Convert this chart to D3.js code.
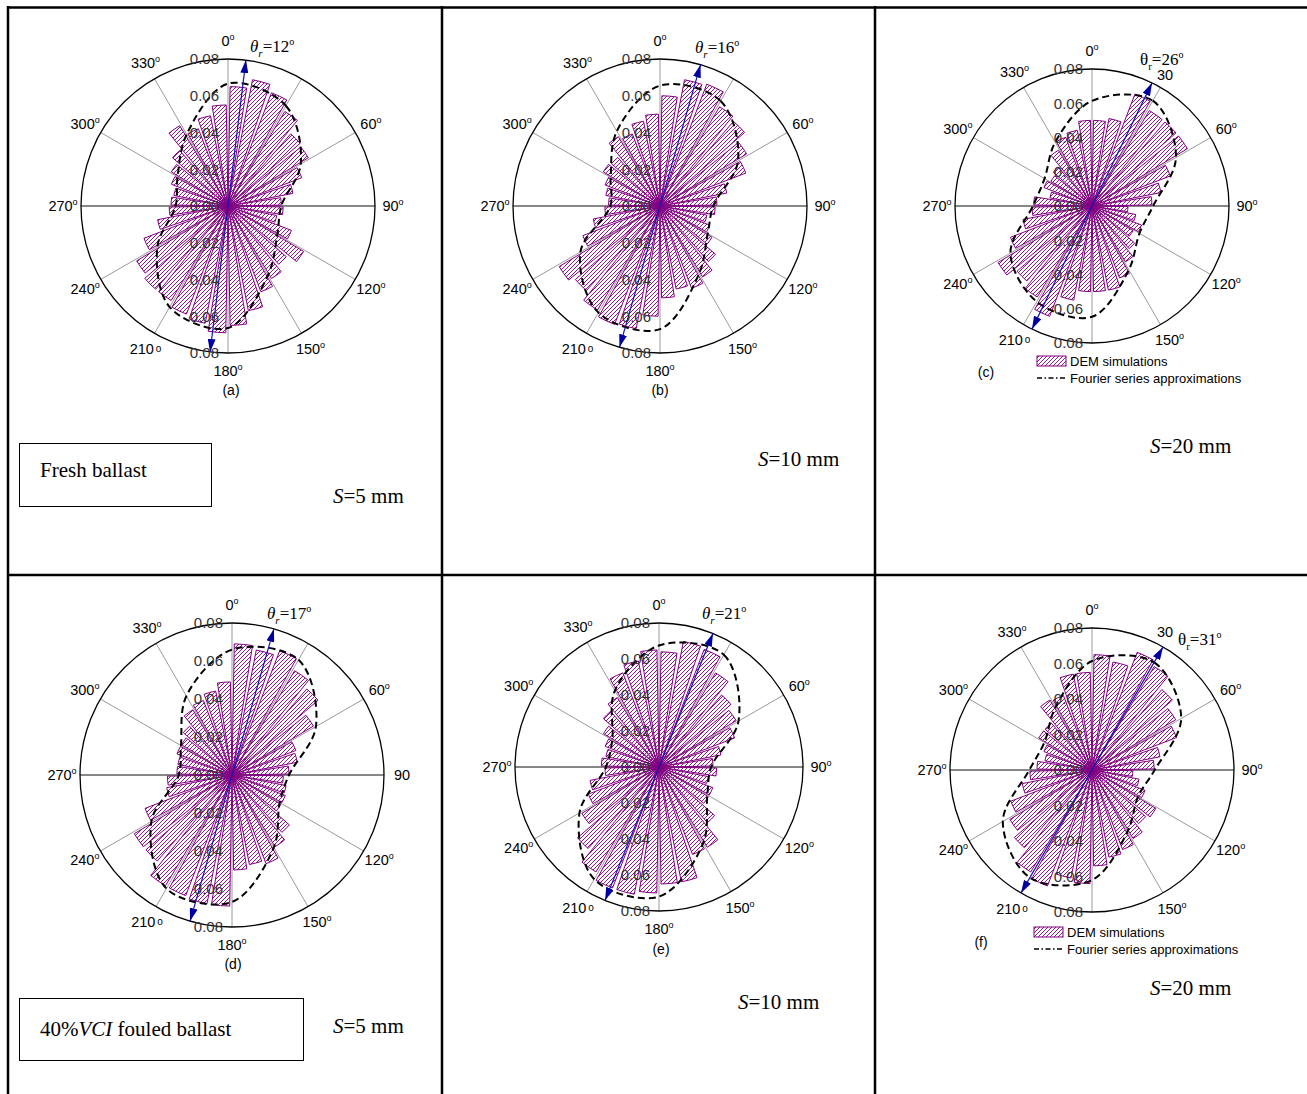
<!DOCTYPE html>
<html>
<head>
<meta charset="utf-8">
<script src="https://cdn.jsdelivr.net/npm/d3@7"></script>
<style>
  body { margin: 0; background: #fff; }
  svg text { font-family: "Liberation Sans", Arial, sans-serif; }
  svg text.serif { font-family: "Liberation Serif", "Times New Roman", serif; }
</style>
</head>
<body>
<svg id="chart" width="1307" height="1094"></svg>
<script>
// bin centres (deg, clockwise from top) and spoke angles
const binAngles = [5, 15, 25, 35, 45, 55, 65, 75, 85, 95, 105, 115, 125, 135, 145, 155, 165, 175,
  185, 195, 205, 215, 225, 235, 245, 255, 265, 275, 285, 295, 305, 315, 325, 335, 345, 355];
const spokeAngles = [0, 30, 60, 90, 120, 150, 180, 210, 240, 270, 300, 330];
const radialTicks = [0, 0.02, 0.04, 0.06, 0.08];

// DEM contact normal frequencies, one value per bin
const barsA = [0.065, 0.070, 0.066, 0.060, 0.052, 0.051, 0.043, 0.036, 0.029,
  0.030, 0.027, 0.037, 0.048, 0.042, 0.046, 0.050, 0.058, 0.065,
  0.069, 0.065, 0.063, 0.060, 0.060, 0.058, 0.049, 0.039, 0.032,
  0.031, 0.030, 0.033, 0.036, 0.040, 0.051, 0.045, 0.050, 0.055];
const barsB = [0.060, 0.070, 0.071, 0.063, 0.061, 0.055, 0.050, 0.037, 0.031,
  0.030, 0.026, 0.029, 0.033, 0.040, 0.045, 0.048, 0.046, 0.050,
  0.060, 0.068, 0.069, 0.066, 0.061, 0.064, 0.045, 0.037, 0.030,
  0.028, 0.030, 0.032, 0.036, 0.035, 0.044, 0.042, 0.047, 0.050];
const barsC = [0.050, 0.052, 0.070, 0.065, 0.065, 0.065, 0.049, 0.041, 0.035,
  0.021, 0.026, 0.031, 0.028, 0.033, 0.038, 0.045, 0.050, 0.050,
  0.050, 0.056, 0.069, 0.062, 0.058, 0.064, 0.051, 0.041, 0.035,
  0.034, 0.025, 0.030, 0.028, 0.030, 0.038, 0.043, 0.045, 0.050];
const barsD = [0.069, 0.067, 0.070, 0.064, 0.060, 0.050, 0.036, 0.035, 0.030,
  0.027, 0.029, 0.030, 0.030, 0.040, 0.044, 0.050, 0.048, 0.050,
  0.069, 0.069, 0.068, 0.068, 0.060, 0.060, 0.049, 0.035, 0.034,
  0.029, 0.029, 0.031, 0.031, 0.034, 0.040, 0.042, 0.045, 0.049];
const barsE = [0.064, 0.071, 0.070, 0.061, 0.053, 0.050, 0.045, 0.035, 0.030,
  0.032, 0.028, 0.032, 0.032, 0.041, 0.052, 0.052, 0.065, 0.065,
  0.070, 0.072, 0.072, 0.068, 0.060, 0.050, 0.042, 0.039, 0.030,
  0.032, 0.030, 0.032, 0.036, 0.041, 0.045, 0.056, 0.060, 0.065];
const barsF = [0.065, 0.062, 0.071, 0.068, 0.060, 0.055, 0.051, 0.039, 0.035,
  0.023, 0.027, 0.032, 0.042, 0.040, 0.045, 0.048, 0.050, 0.054,
  0.064, 0.062, 0.070, 0.067, 0.058, 0.054, 0.049, 0.040, 0.035,
  0.031, 0.027, 0.029, 0.035, 0.035, 0.046, 0.045, 0.055, 0.055];

// Fourier approximation, read at the spoke angles
const fourierA = [0.0666, 0.063, 0.0457, 0.029, 0.031, 0.0435, 0.0664, 0.0635, 0.0444, 0.0285, 0.0317, 0.045];
const fourierB = [0.0655, 0.066, 0.049, 0.029, 0.030, 0.0425, 0.067, 0.067, 0.050, 0.027, 0.031, 0.047];
const fourierC = [0.0614, 0.071, 0.0566, 0.0357, 0.032, 0.043, 0.0647, 0.0645, 0.055, 0.0345, 0.032, 0.043];
const fourierD = [0.066, 0.070, 0.051, 0.030, 0.029, 0.044, 0.0668, 0.069, 0.049, 0.028, 0.031, 0.048];
const fourierE = [0.0675, 0.072, 0.051, 0.029, 0.031, 0.049, 0.072, 0.072, 0.051, 0.0295, 0.030, 0.049];
const fourierF = [0.0614, 0.070, 0.058, 0.0353, 0.030, 0.040, 0.062, 0.070, 0.058, 0.0353, 0.031, 0.041];

// principal direction: labelled value and drawn arrow angle
const thetaR = [12, 16, 26, 17, 21, 31];
const arrowAngles = [7, 16, 26, 16, 22, 30];
const panelLetters = ['(a)', '(b)', '(c)', '(d)', '(e)', '(f)'];
const spacings = ['5', '10', '20', '5', '10', '20'];

const allBars = [barsA, barsB, barsC, barsD, barsE, barsF];
const allFourier = [fourierA, fourierB, fourierC, fourierD, fourierE, fourierF];

// layout only
const panels = [
  {cx: 228, cy: 206, R: 147, lab30: null, deg90: true, lab180: true, thetaX: 250, thetaY: 52, upright: false, letter: [231, 390], spacing: [333, 503]},
  {cx: 660, cy: 206, R: 147, lab30: null, deg90: true, lab180: true, thetaX: 695, thetaY: 53, upright: false, letter: [660, 390], spacing: [758, 466]},
  {cx: 1092, cy: 206, R: 137, lab30: [1165, 75], deg90: true, lab180: false, thetaX: 1140, thetaY: 65, upright: true, letter: [986, 372], spacing: [1150, 453], legend: [1037, 356]},
  {cx: 232, cy: 775, R: 152, lab30: null, deg90: false, lab180: true, thetaX: 267, thetaY: 619, upright: false, letter: [233, 964], spacing: [333, 1033]},
  {cx: 659, cy: 767, R: 144, lab30: null, deg90: true, lab180: true, thetaX: 702, thetaY: 619, upright: false, letter: [661, 949], spacing: [738, 1009]},
  {cx: 1092, cy: 770, R: 142, lab30: [1165, 632], deg90: true, lab180: false, thetaX: 1178, thetaY: 645, upright: true, letter: [981, 942], spacing: [1150, 995], legend: [1034, 927]}
];

const purple = '#800080';
const navy = '#0000a0';

const svg = d3.select('#chart');
svg.append('rect').attr('width', 1307).attr('height', 1094).attr('fill', '#fff');

const defs = svg.append('defs');
// pixel-exact "/" hatch; offset keeps the same page phase in every panel
function makeHatch(id, ox, oy) {
  const shift = ((2 - 3 - ox - oy) % 4 + 8) % 4;
  const pat = defs.append('pattern')
    .attr('id', id)
    .attr('patternUnits', 'userSpaceOnUse')
    .attr('x', shift)
    .attr('width', 4)
    .attr('height', 4);
  pat.selectAll('rect')
    .data([[3, 0], [2, 1], [1, 2], [0, 3]])
    .join('rect')
    .attr('x', d => d[0]).attr('y', d => d[1])
    .attr('width', 1).attr('height', 1)
    .attr('fill', '#8c1a8c')
    .attr('shape-rendering', 'crispEdges');
  return `url(#${id})`;
}
const pageHatch = makeHatch('hatch-page', 0, 0);

defs.append('marker')
  .attr('id', 'arrowHead')
  .attr('viewBox', '0 0 13 8')
  .attr('refX', 13)
  .attr('refY', 4)
  .attr('markerWidth', 13)
  .attr('markerHeight', 8)
  .attr('markerUnits', 'userSpaceOnUse')
  .attr('orient', 'auto-start-reverse')
  .append('path')
  .attr('d', 'M0,0 L13,4 L0,8 z')
  .attr('fill', navy);

// table frame
const frame = svg.append('g').attr('stroke', '#000').attr('stroke-width', 2.5);
frame.append('line').attr('x1', 7).attr('x2', 1307).attr('y1', 7.5).attr('y2', 7.5);
frame.append('line').attr('x1', 8).attr('x2', 8).attr('y1', 6).attr('y2', 1094);
frame.append('line').attr('x1', 442).attr('x2', 442).attr('y1', 6).attr('y2', 1094);
frame.append('line').attr('x1', 875).attr('x2', 875).attr('y1', 6).attr('y2', 1094);
frame.append('line').attr('x1', 7).attr('x2', 1307).attr('y1', 575).attr('y2', 575);

// boxed captions
function captionBox(x, y, w, h, build) {
  svg.append('rect').attr('x', x).attr('y', y).attr('width', w).attr('height', h)
    .attr('fill', 'none').attr('stroke', '#000').attr('stroke-width', 1);
  build(svg.append('text').attr('class', 'serif').attr('font-size', 21).attr('fill', '#000'));
}
captionBox(19.5, 443.5, 192, 63, t => t.attr('x', 40).attr('y', 477).text('Fresh ballast'));
captionBox(19.5, 998.5, 284, 62, t => {
  t.attr('x', 40).attr('y', 1036);
  t.append('tspan').text('40%');
  t.append('tspan').attr('font-style', 'italic').text('VCI');
  t.append('tspan').text(' fouled ballast');
});

const fmt = d3.format('.2f');

function degText(sel, label, deg) {
  sel.append('tspan').text(label);
  if (deg) sel.append('tspan').attr('font-size', 9).attr('dy', -6).text('o');
}

panels.forEach((p, k) => {
  const bars = allBars[k];
  const fourier = allFourier[k];
  const g = svg.append('g').attr('transform', `translate(${p.cx},${p.cy})`);
  const fillHatch = makeHatch('hatch-' + k, p.cx, p.cy);

  const r = d3.scaleLinear().domain([0, 0.08]).range([0, p.R]);
  const ang = d3.scaleLinear().domain([0, 360]).range([0, 2 * Math.PI]);
  const px = (deg, rad) => rad * Math.sin(ang(deg));
  const py = (deg, rad) => -rad * Math.cos(ang(deg));

  // spokes and rim
  g.selectAll('line.spoke')
    .data(spokeAngles)
    .join('line')
    .attr('class', 'spoke')
    .attr('x1', 0).attr('y1', 0)
    .attr('x2', d => px(d, p.R)).attr('y2', d => py(d, p.R))
    .attr('stroke', d => (d === 90 || d === 270) ? '#111' : '#9a9a9a')
    .attr('stroke-width', 1);
  g.append('circle').attr('r', p.R).attr('fill', 'none').attr('stroke', '#000').attr('stroke-width', 1.3);

  // rose bars
  const arc = d3.arc()
    .innerRadius(0)
    .outerRadius(d => r(d.v))
    .startAngle(d => ang(d.a - 4))
    .endAngle(d => ang(d.a + 4));
  g.selectAll('path.bar')
    .data(binAngles.map((a, i) => ({a, v: bars[i]})))
    .join('path')
    .attr('class', 'bar')
    .attr('d', arc)
    .attr('fill', fillHatch)
    .attr('stroke', purple)
    .attr('stroke-width', 1);

  // Fourier approximation
  const line = d3.lineRadial()
    .angle(d => ang(d.a))
    .radius(d => r(d.v))
    .curve(d3.curveCatmullRomClosed.alpha(0.5));
  g.append('path')
    .attr('d', line(spokeAngles.map((a, i) => ({a, v: fourier[i]}))))
    .attr('fill', 'none')
    .attr('stroke', '#000')
    .attr('stroke-width', 2)
    .attr('stroke-dasharray', '7,4');

  // principal direction arrow
  const aa = arrowAngles[k];
  g.append('line')
    .attr('x1', px(aa + 180, p.R)).attr('y1', py(aa + 180, p.R))
    .attr('x2', px(aa, p.R)).attr('y2', py(aa, p.R))
    .attr('stroke', '#1414b4')
    .attr('stroke-width', 1.2)
    .attr('marker-start', 'url(#arrowHead)')
    .attr('marker-end', 'url(#arrowHead)');

  // radial tick labels along the vertical axis
  const radLabels = [];
  radialTicks.forEach(v => {
    radLabels.push({v, y: -r(v)});
    if (v > 0) radLabels.push({v, y: r(v)});
  });
  g.selectAll('text.rad')
    .data(radLabels)
    .join('text')
    .attr('class', 'rad')
    .attr('x', -9)
    .attr('y', d => d.y)
    .attr('dy', '0.36em')
    .attr('text-anchor', 'end')
    .attr('font-size', 15)
    .attr('fill', '#333')
    .text(d => fmt(d.v));

  // angle labels
  spokeAngles.forEach(a => {
    if (a === 30) return;
    if (a === 180 && !p.lab180) return;
    const rr = p.R + 18;
    const t = g.append('text')
      .attr('x', px(a, rr))
      .attr('y', py(a, rr))
      .attr('dy', '0.36em')
      .attr('text-anchor', 'middle')
      .attr('font-size', 14.5)
      .attr('fill', '#000');
    if (a === 210) {
      t.append('tspan').text('210');
      t.append('tspan').attr('font-size', 10).attr('dx', 2).attr('dy', -2).text('o');
      return;
    }
    degText(t, String(a), a !== 90 || p.deg90);
  });
  if (p.lab30) {
    svg.append('text')
      .attr('x', p.lab30[0]).attr('y', p.lab30[1])
      .attr('dy', '0.36em')
      .attr('text-anchor', 'middle')
      .attr('font-size', 14.5)
      .text('30');
  }

  // theta_r label
  const th = svg.append('text')
    .attr('class', 'serif')
    .attr('x', p.thetaX)
    .attr('y', p.thetaY)
    .attr('font-size', 17)
    .attr('fill', '#000');
  th.append('tspan').attr('font-style', p.upright ? 'normal' : 'italic').text('θ');
  th.append('tspan').attr('font-size', 11).attr('dy', 5).attr('font-style', p.upright ? 'normal' : 'italic').text('r');
  th.append('tspan').attr('dy', -5).text('=' + thetaR[k]);
  th.append('tspan').attr('font-size', 10).attr('dy', -7).text('o');

  // panel letter
  svg.append('text')
    .attr('x', p.letter[0]).attr('y', p.letter[1])
    .attr('dy', '0.36em')
    .attr('text-anchor', 'middle')
    .attr('font-size', 14)
    .text(panelLetters[k]);

  // spacing label
  const s = svg.append('text')
    .attr('class', 'serif')
    .attr('x', p.spacing[0]).attr('y', p.spacing[1])
    .attr('font-size', 21)
    .attr('fill', '#000');
  s.append('tspan').attr('font-style', 'italic').text('S');
  s.append('tspan').text('=' + spacings[k] + ' mm');

  // legend
  if (p.legend) {
    const [lx, ly] = p.legend;
    const lg = svg.append('g');
    lg.append('rect')
      .attr('x', lx).attr('y', ly).attr('width', 29).attr('height', 10)
      .attr('fill', pageHatch).attr('stroke', purple).attr('stroke-width', 1);
    lg.append('text').attr('x', lx + 33).attr('y', ly + 5).attr('dy', '0.36em')
      .attr('font-size', 13).text('DEM simulations');
    lg.append('line')
      .attr('x1', lx).attr('x2', lx + 29).attr('y1', ly + 22).attr('y2', ly + 22)
      .attr('stroke', '#000').attr('stroke-width', 1.6)
      .attr('stroke-dasharray', '5,2.5,1.5,2.5');
    lg.append('text').attr('x', lx + 33).attr('y', ly + 22).attr('dy', '0.36em')
      .attr('font-size', 13).text('Fourier series approximations');
  }
});
</script>
</body>
</html>
